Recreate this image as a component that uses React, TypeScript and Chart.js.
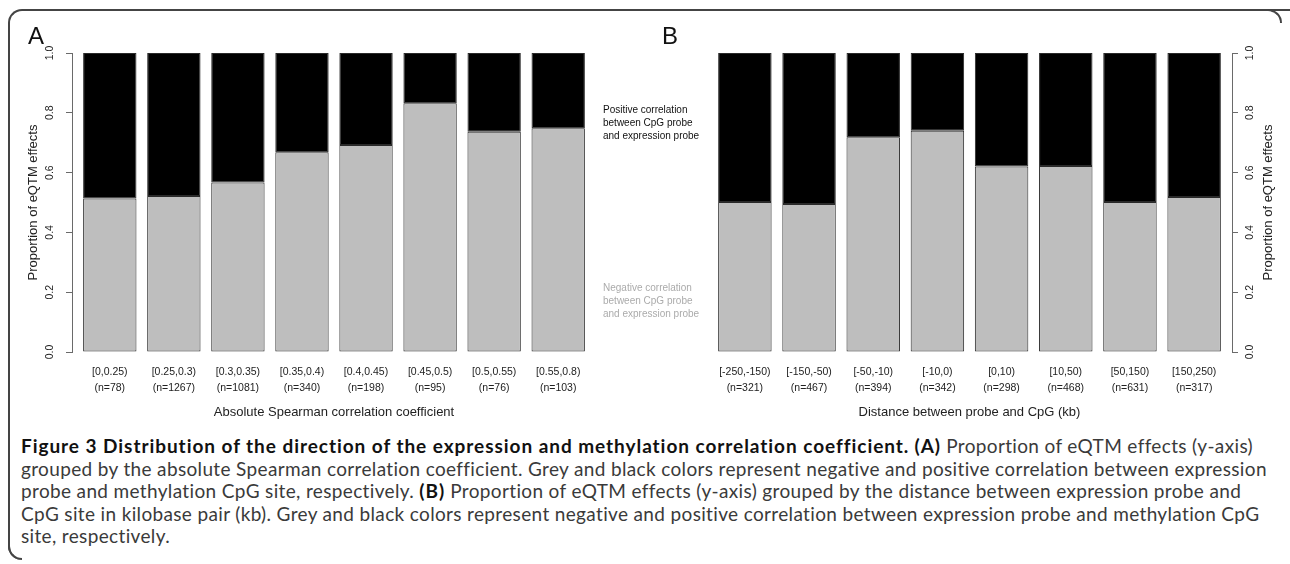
import React, { useEffect, useRef } from "react";
import { Chart, registerables } from "chart.js";

Chart.register(...registerables);

// ---------- data ----------
const corrBins = ["[0,0.25)", "[0.25,0.3)", "[0.3,0.35)", "[0.35,0.4)", "[0.4,0.45)", "[0.45,0.5)", "[0.5,0.55)", "[0.55,0.8)"];
const corrCounts = ["(n=78)", "(n=1267)", "(n=1081)", "(n=340)", "(n=198)", "(n=95)", "(n=76)", "(n=103)"];
const corrNegative = [0.513, 0.522, 0.567, 0.668, 0.692, 0.832, 0.737, 0.748];
const corrPositive = [0.487, 0.478, 0.433, 0.332, 0.308, 0.168, 0.263, 0.252];

const distBins = ["[-250,-150)", "[-150,-50)", "[-50,-10)", "[-10,0)", "[0,10)", "[10,50)", "[50,150)", "[150,250)"];
const distCounts = ["(n=321)", "(n=467)", "(n=394)", "(n=342)", "(n=298)", "(n=468)", "(n=631)", "(n=317)"];
const distNegative = [0.502, 0.495, 0.718, 0.740, 0.620, 0.622, 0.502, 0.518];
const distPositive = [0.498, 0.505, 0.282, 0.260, 0.380, 0.378, 0.498, 0.482];

const yTitle = "Proportion of eQTM effects";
const corrTitle = "Absolute Spearman correlation coefficient";
const distTitle = "Distance between probe and CpG (kb)";

const FONT = "'Liberation Sans', Arial, sans-serif";
const AXIS_COLOR = "#6a6a6a";
const TEXT_COLOR = "#222";

const rightTitlePlugin = {
  id: "rightTitle",
  afterDraw(chart: any, _args: any, opts: any) {
    if (!opts || !opts.text) return;
    const s = chart.scales.y;
    const { ctx, chartArea } = chart;
    ctx.save();
    ctx.translate(s.right - opts.offset, (chartArea.top + chartArea.bottom) / 2);
    ctx.rotate(-Math.PI / 2);
    ctx.font = `${opts.size}px ${FONT}`;
    ctx.fillStyle = TEXT_COLOR;
    ctx.textAlign = "center";
    ctx.textBaseline = "middle";
    ctx.fillText(opts.text, 0, 0);
    ctx.restore();
  },
};

type PanelProps = {
  bins: string[];
  counts: string[];
  neg: number[];
  pos: number[];
  side: "left" | "right";
  xTitle: string;
  left: number;
  width: number;
  padding: { left: number; right: number; top: number; bottom: number };
};

function Panel(p: PanelProps) {
  const ref = useRef<HTMLCanvasElement | null>(null);
  useEffect(() => {
    if (!ref.current) return;
    const isLeft = p.side === "left";
    const chart = new Chart(ref.current, {
      type: "bar",
      data: {
        datasets: [
          {
            label: "Negative",
            data: p.neg.map((v, i) => ({ x: i + 1, y: v })),
            backgroundColor: "#bebebe",
            borderColor: "#2a2a2a",
            borderWidth: 1,
            borderSkipped: false,
            categoryPercentage: 1,
            barPercentage: 0.833,
          },
          {
            label: "Positive",
            data: p.pos.map((v, i) => ({ x: i + 1, y: v })),
            backgroundColor: "#000000",
            borderColor: "#2a2a2a",
            borderWidth: 1,
            borderSkipped: false,
            categoryPercentage: 1,
            barPercentage: 0.833,
          },
        ],
      } as any,
      options: {
        animation: false,
        responsive: false,
        maintainAspectRatio: false,
        layout: { padding: p.padding },
        plugins: {
          legend: { display: false },
          tooltip: { enabled: false },
          rightTitle: isLeft ? {} : { text: yTitle, offset: 14, size: 13 },
        } as any,
        scales: {
          x: {
            type: "linear",
            stacked: true,
            offset: false,
            min: 0.41,
            max: 8.59,
            grid: { display: false, drawTicks: false, offset: false },
            border: { display: false },
            ticks: {
              stepSize: 1,
              includeBounds: false,
              autoSkip: false,
              maxRotation: 0,
              minRotation: 0,
              padding: 12,
              color: TEXT_COLOR,
              font: { family: FONT, size: 10.5, lineHeight: "16px" } as any,
              callback: (value: any) => {
                const v = Number(value);
                const i = Math.round(v) - 1;
                if (Math.abs(v - Math.round(v)) > 1e-6 || i < 0 || i >= p.bins.length) return "";
                return [p.bins[i], p.counts[i]];
              },
            },
            title: {
              display: true,
              text: p.xTitle,
              color: TEXT_COLOR,
              font: { family: FONT, size: 13 },
              padding: { top: 4, bottom: 4 },
            },
            afterFit: (s: any) => {
              s.height = 72;
            },
          },
          y: {
            type: "linear",
            position: p.side,
            stacked: true,
            min: 0,
            max: 1,
            grid: {
              display: true,
              drawOnChartArea: false,
              drawTicks: true,
              tickLength: 6,
              color: AXIS_COLOR,
              lineWidth: 1,
            },
            border: { display: true, color: AXIS_COLOR, width: 1 },
            ticks: {
              stepSize: 0.2,
              minRotation: 90,
              maxRotation: 90,
              crossAlign: "center",
              padding: isLeft ? 8.5 : 4.5,
              color: TEXT_COLOR,
              font: { family: FONT, size: 10.5 },
              callback: (v: any) => Number(v).toFixed(1),
            },
            title: {
              display: isLeft,
              text: yTitle,
              color: TEXT_COLOR,
              font: { family: FONT, size: 13 },
              padding: { top: 4, bottom: 4 },
            },
            afterFit: (s: any) => {
              s.width = 50;
            },
          },
        },
      } as any,
      plugins: [rightTitlePlugin as any],
    });
    return () => chart.destroy();
  }, []);
  return (
    <canvas
      ref={ref}
      width={p.width}
      height={430}
      style={{ position: "absolute", left: p.left, top: 0, width: p.width, height: 430 }}
    />
  );
}

const captionStyle: React.CSSProperties = {
  position: "absolute",
  left: 21,
  top: 435,
  fontFamily: "Lato, 'Open Sans', sans-serif",
  fontSize: 19,
  letterSpacing: "0.35px",
  lineHeight: "22.6px",
  color: "#3a3a3a",
  whiteSpace: "pre",
};

const boldStyle: React.CSSProperties = { color: "#111", letterSpacing: "0.95px" };

export default function App() {
  return (
    <div
      style={{
        position: "fixed",
        left: 0,
        top: 0,
        width: 1290,
        height: 564,
        background: "#fff",
        overflow: "hidden",
      }}
    >
      {/* frame */}
      <div
        style={{
          position: "absolute",
          left: 8,
          top: 9,
          width: 1290,
          height: 551,
          borderTop: "2px solid #444",
          borderLeft: "2px solid #444",
          borderTopLeftRadius: 14,
          borderBottomLeftRadius: 14,
          boxSizing: "border-box",
        }}
      />
      <div
        style={{
          position: "absolute",
          left: 8,
          top: 546,
          width: 14,
          height: 14,
          borderBottom: "2px solid #444",
          borderLeft: "2px solid #444",
          borderBottomLeftRadius: 14,
          boxSizing: "border-box",
        }}
      />
      <div
        style={{
          position: "absolute",
          left: 1268,
          top: 9,
          width: 14,
          height: 14,
          borderTop: "2px solid #444",
          borderRight: "2px solid #444",
          borderTopRightRadius: 14,
          boxSizing: "border-box",
        }}
      />

      <Panel
        bins={corrBins}
        counts={corrCounts}
        neg={corrNegative}
        pos={corrPositive}
        side="left"
        xTitle={corrTitle}
        left={0}
        width={640}
        padding={{ left: 22, right: 44, top: 53, bottom: 6 }}
      />
      <Panel
        bins={distBins}
        counts={distCounts}
        neg={distNegative}
        pos={distPositive}
        side="right"
        xTitle={distTitle}
        left={640}
        width={650}
        padding={{ left: 67, right: 8, top: 53, bottom: 6 }}
      />

      {/* panel letters */}
      <div style={{ position: "absolute", left: 28, top: 24, fontFamily: FONT, fontSize: 24, lineHeight: "24px", color: "#111" }}>A</div>
      <div style={{ position: "absolute", left: 662, top: 24, fontFamily: FONT, fontSize: 24, lineHeight: "24px", color: "#111" }}>B</div>

      {/* legend texts */}
      <div style={{ position: "absolute", left: 603, top: 102.5, fontFamily: FONT, fontSize: 10, lineHeight: "13px", color: "#111", whiteSpace: "pre" }}>
        {"Positive correlation\nbetween CpG probe\nand expression probe"}
      </div>
      <div style={{ position: "absolute", left: 603, top: 280.5, fontFamily: FONT, fontSize: 10, lineHeight: "13px", color: "#ababab", whiteSpace: "pre" }}>
        {"Negative correlation\nbetween CpG probe\nand expression probe"}
      </div>

      {/* caption */}
      <div style={captionStyle}>
        <b style={boldStyle}>Figure 3 Distribution of the direction of the expression and methylation correlation coefficient.</b>{" "}
        <b style={boldStyle}>(A)</b>
        {" Proportion of eQTM effects (y-axis)\n"}
        {"grouped by the absolute Spearman correlation coefficient. Grey and black colors represent negative and positive correlation between expression\n"}
        {"probe and methylation CpG site, respectively. "}
        <b style={boldStyle}>(B)</b>
        {" Proportion of eQTM effects (y-axis) grouped by the distance between expression probe and\n"}
        {"CpG site in kilobase pair (kb). Grey and black colors represent negative and positive correlation between expression probe and methylation CpG\n"}
        {"site, respectively."}
      </div>
    </div>
  );
}
